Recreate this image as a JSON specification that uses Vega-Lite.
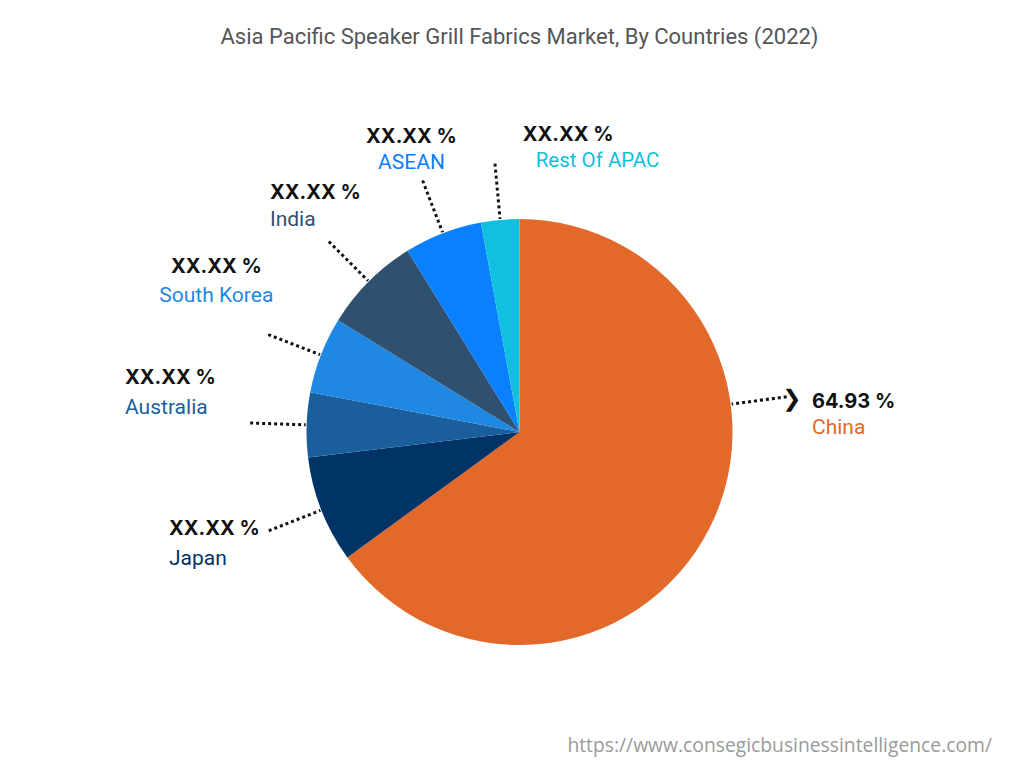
{
  "$schema": "https://vega.github.io/schema/vega-lite/v6.json",
  "background": "white",
  "padding": {"left": 15, "right": 0, "top": 26, "bottom": 0},
  "config": {"view": {"stroke": null}},
  "title": {"text": "Asia Pacific Speaker Grill Fabrics Market, By Countries (2022)", "font": "Roboto", "fontSize": 22, "fontWeight": "normal", "color": "#555555", "anchor": "middle", "offset": 75.5},
  "data": {"values": [
    {"country": "China", "share": 64.93, "label": "64.93 %", "rank": 1},
    {"country": "Japan", "share": 8.1, "label": "XX.XX %", "rank": 2},
    {"country": "Australia", "share": 4.9, "label": "XX.XX %", "rank": 3},
    {"country": "South Korea", "share": 5.8, "label": "XX.XX %", "rank": 4},
    {"country": "India", "share": 7.4, "label": "XX.XX %", "rank": 5},
    {"country": "ASEAN", "share": 5.9, "label": "XX.XX %", "rank": 6},
    {"country": "Rest Of APAC", "share": 2.9, "label": "XX.XX %", "rank": 7}
  ]},
  "vconcat": [{
    "width": 1009,
    "height": 608,
    "title": {"text": "https://www.consegicbusinessintelligence.com/", "orient": "bottom", "anchor": "end", "font": "Open Sans", "fontSize": 19.3, "fontWeight": "normal", "color": "#9a9a9a", "offset": 1, "dx": -32},
    "layer": [
      {"mark": {"type": "arc", "outerRadius": 213, "strokeWidth": 0},
       "encoding": {
         "theta": {"field": "share", "type": "quantitative", "stack": true},
         "order": {"field": "rank", "type": "quantitative"},
         "color": {"field": "country", "type": "nominal", "legend": null,
         "scale": {"domain": ["China", "Japan", "Australia", "South Korea", "India", "ASEAN", "Rest Of APAC"],
                   "range": ["#e3692a", "#003366", "#1b5e9c", "#1e88e3", "#2f506f", "#0a80ff", "#10c0e0"]}}}},
      {"mark": {"type": "arc", "outerRadius": 269.5, "innerRadius": 214, "padAngle": 3.14159, "fillOpacity": 0, "stroke": "#111111", "strokeWidth": 3, "strokeDash": [3, 3]},
       "encoding": {
         "theta": {"field": "share", "type": "quantitative", "stack": true},
         "order": {"field": "rank", "type": "quantitative"},
         "strokeOpacity": {"condition": {"test": "datum.country === 'China'", "value": 0}, "value": 1}}},
      {"transform": [{"filter": "datum.country === 'China'"}],
       "mark": {"type": "arc", "theta": 1.4399, "theta2": 1.4399, "outerRadius": 269.5, "innerRadius": 214, "padAngle": 3.14159, "fillOpacity": 0, "stroke": "#111111", "strokeWidth": 3, "strokeDash": [3, 3]}},
      {"transform": [{"filter": "datum.country === 'China'"}],
       "mark": {"type": "text", "text": "❯", "radius": 274.4, "thetaOffset": -0.5892, "font": "DejaVu Sans", "fontWeight": "bold", "fontSize": 23, "fill": "#111111", "align": "center", "baseline": "middle"},
       "encoding": {"theta": {"field": "share", "type": "quantitative", "stack": true}}},
      {"transform": [{"filter": "datum.country === 'China'"}],
       "mark": {"type": "text", "radius": 293, "thetaOffset": -0.5287, "align": "left", "baseline": "middle", "dy": -13, "font": "Inter", "fontSize": 20, "fontWeight": "bold", "fill": "#111111"},
       "encoding": {"theta": {"field": "share", "type": "quantitative", "stack": true}, "text": {"field": "label"}}},
      {"transform": [{"filter": "datum.country === 'China'"}],
       "mark": {"type": "text", "radius": 293, "thetaOffset": -0.5287, "align": "left", "baseline": "middle", "dy": 13.5, "font": "Roboto", "fontSize": 21},
       "encoding": {"theta": {"field": "share", "type": "quantitative", "stack": true}, "text": {"field": "country"}, "color": {"field": "country", "type": "nominal", "legend": null,
         "scale": {"domain": ["China", "Japan", "Australia", "South Korea", "India", "ASEAN", "Rest Of APAC"],
                   "range": ["#e3692a", "#003366", "#1b5e9c", "#1e88e3", "#2f506f", "#0a80ff", "#10c0e0"]}}}},

      {"transform": [{"stack": "share", "groupby": [], "sort": [{"field": "rank", "order": "ascending"}], "as": ["s0", "s1"]}, {"filter": "datum.country !== 'China'"}],
       "layer": [
         {"transform": [{"filter": "datum.country === 'Japan'"}],
          "mark": {"type": "text", "radius": 368, "thetaOffset": 0.3206, "align": "left", "baseline": "middle", "dy": -15, "font": "Inter", "fontSize": 20, "fontWeight": "bold", "fill": "#111111"},
          "encoding": {"theta": {"field": "s0", "type": "quantitative", "stack": null}, "text": {"field": "label"}}},
         {"transform": [{"filter": "datum.country === 'Japan'"}],
          "mark": {"type": "text", "radius": 368, "thetaOffset": 0.3206, "align": "left", "baseline": "middle", "dy": 15, "font": "Roboto", "fontSize": 21},
          "encoding": {"theta": {"field": "s0", "type": "quantitative", "stack": null}, "text": {"field": "country"},
            "color": {"field": "country", "type": "nominal", "legend": null,
            "scale": {"domain": ["China", "Japan", "Australia", "South Korea", "India", "ASEAN", "Rest Of APAC"],
                      "range": ["#e3692a", "#003366", "#1b5e9c", "#1e88e3", "#2f506f", "#0a80ff", "#10c0e0"]}}}},

         {"transform": [{"filter": "datum.country === 'Australia'"}],
          "mark": {"type": "text", "radius": 396.4, "thetaOffset": 0.2192, "align": "left", "baseline": "middle", "dy": -14.5, "font": "Inter", "fontSize": 20, "fontWeight": "bold", "fill": "#111111"},
          "encoding": {"theta": {"field": "s0", "type": "quantitative", "stack": null}, "text": {"field": "label"}}},
         {"transform": [{"filter": "datum.country === 'Australia'"}],
          "mark": {"type": "text", "radius": 396.4, "thetaOffset": 0.2192, "align": "left", "baseline": "middle", "dy": 15, "font": "Roboto", "fontSize": 21},
          "encoding": {"theta": {"field": "s0", "type": "quantitative", "stack": null}, "text": {"field": "country"},
            "color": {"field": "country", "type": "nominal", "legend": null,
            "scale": {"domain": ["China", "Japan", "Australia", "South Korea", "India", "ASEAN", "Rest Of APAC"],
                      "range": ["#e3692a", "#003366", "#1b5e9c", "#1e88e3", "#2f506f", "#0a80ff", "#10c0e0"]}}}},

         {"transform": [{"filter": "datum.country === 'South Korea'"}],
          "mark": {"type": "text", "radius": 338.5, "thetaOffset": 0.2733, "align": "center", "baseline": "middle", "dy": -14.5, "font": "Inter", "fontSize": 20, "fontWeight": "bold", "fill": "#111111"},
          "encoding": {"theta": {"field": "s0", "type": "quantitative", "stack": null}, "text": {"field": "label"}}},
         {"transform": [{"filter": "datum.country === 'South Korea'"}],
          "mark": {"type": "text", "radius": 338.5, "thetaOffset": 0.2733, "align": "center", "baseline": "middle", "dy": 14.5, "font": "Roboto", "fontSize": 21},
          "encoding": {"theta": {"field": "s0", "type": "quantitative", "stack": null}, "text": {"field": "country"},
            "color": {"field": "country", "type": "nominal", "legend": null,
            "scale": {"domain": ["China", "Japan", "Australia", "South Korea", "India", "ASEAN", "Rest Of APAC"],
                      "range": ["#e3692a", "#003366", "#1b5e9c", "#1e88e3", "#2f506f", "#0a80ff", "#10c0e0"]}}}},

         {"transform": [{"filter": "datum.country === 'India'"}],
          "mark": {"type": "text", "radius": 336.2, "thetaOffset": 0.1822, "align": "left", "baseline": "middle", "dy": -13.7, "font": "Inter", "fontSize": 20, "fontWeight": "bold", "fill": "#111111"},
          "encoding": {"theta": {"field": "s0", "type": "quantitative", "stack": null}, "text": {"field": "label"}}},
         {"transform": [{"filter": "datum.country === 'India'"}],
          "mark": {"type": "text", "radius": 336.2, "thetaOffset": 0.1822, "align": "left", "baseline": "middle", "dy": 13.7, "font": "Roboto", "fontSize": 21},
          "encoding": {"theta": {"field": "s0", "type": "quantitative", "stack": null}, "text": {"field": "country"},
            "color": {"field": "country", "type": "nominal", "legend": null,
            "scale": {"domain": ["China", "Japan", "Australia", "South Korea", "India", "ASEAN", "Rest Of APAC"],
                      "range": ["#e3692a", "#003366", "#1b5e9c", "#1e88e3", "#2f506f", "#0a80ff", "#10c0e0"]}}}},

         {"transform": [{"filter": "datum.country === 'ASEAN'"}],
          "mark": {"type": "text", "radius": 302.2, "thetaOffset": 0.1878, "align": "center", "baseline": "middle", "dy": -12.8, "font": "Inter", "fontSize": 20, "fontWeight": "bold", "fill": "#111111"},
          "encoding": {"theta": {"field": "s0", "type": "quantitative", "stack": null}, "text": {"field": "label"}}},
         {"transform": [{"filter": "datum.country === 'ASEAN'"}],
          "mark": {"type": "text", "radius": 302.2, "thetaOffset": 0.1878, "align": "center", "baseline": "middle", "dy": 12.8, "font": "Roboto", "fontSize": 21},
          "encoding": {"theta": {"field": "s0", "type": "quantitative", "stack": null}, "text": {"field": "country"},
            "color": {"field": "country", "type": "nominal", "legend": null,
            "scale": {"domain": ["China", "Japan", "Australia", "South Korea", "India", "ASEAN", "Rest Of APAC"],
                      "range": ["#e3692a", "#003366", "#1b5e9c", "#1e88e3", "#2f506f", "#0a80ff", "#10c0e0"]}}}},

         {"transform": [{"filter": "datum.country === 'Rest Of APAC'"}],
          "mark": {"type": "text", "radius": 284.3, "thetaOffset": 0.1936, "align": "left", "baseline": "middle", "dy": -13.2, "font": "Inter", "fontSize": 20, "fontWeight": "bold", "fill": "#111111"},
          "encoding": {"theta": {"field": "s0", "type": "quantitative", "stack": null}, "text": {"field": "label"}}},
         {"transform": [{"filter": "datum.country === 'Rest Of APAC'"}],
          "mark": {"type": "text", "radius": 284.3, "thetaOffset": 0.1936, "align": "left", "baseline": "middle", "dx": 13, "dy": 13.2, "font": "Roboto", "fontSize": 20.5},
          "encoding": {"theta": {"field": "s0", "type": "quantitative", "stack": null}, "text": {"field": "country"},
            "color": {"field": "country", "type": "nominal", "legend": null,
            "scale": {"domain": ["China", "Japan", "Australia", "South Korea", "India", "ASEAN", "Rest Of APAC"],
                      "range": ["#e3692a", "#003366", "#1b5e9c", "#1e88e3", "#2f506f", "#0a80ff", "#10c0e0"]}}}}
       ]}
    ]
  }]
}
